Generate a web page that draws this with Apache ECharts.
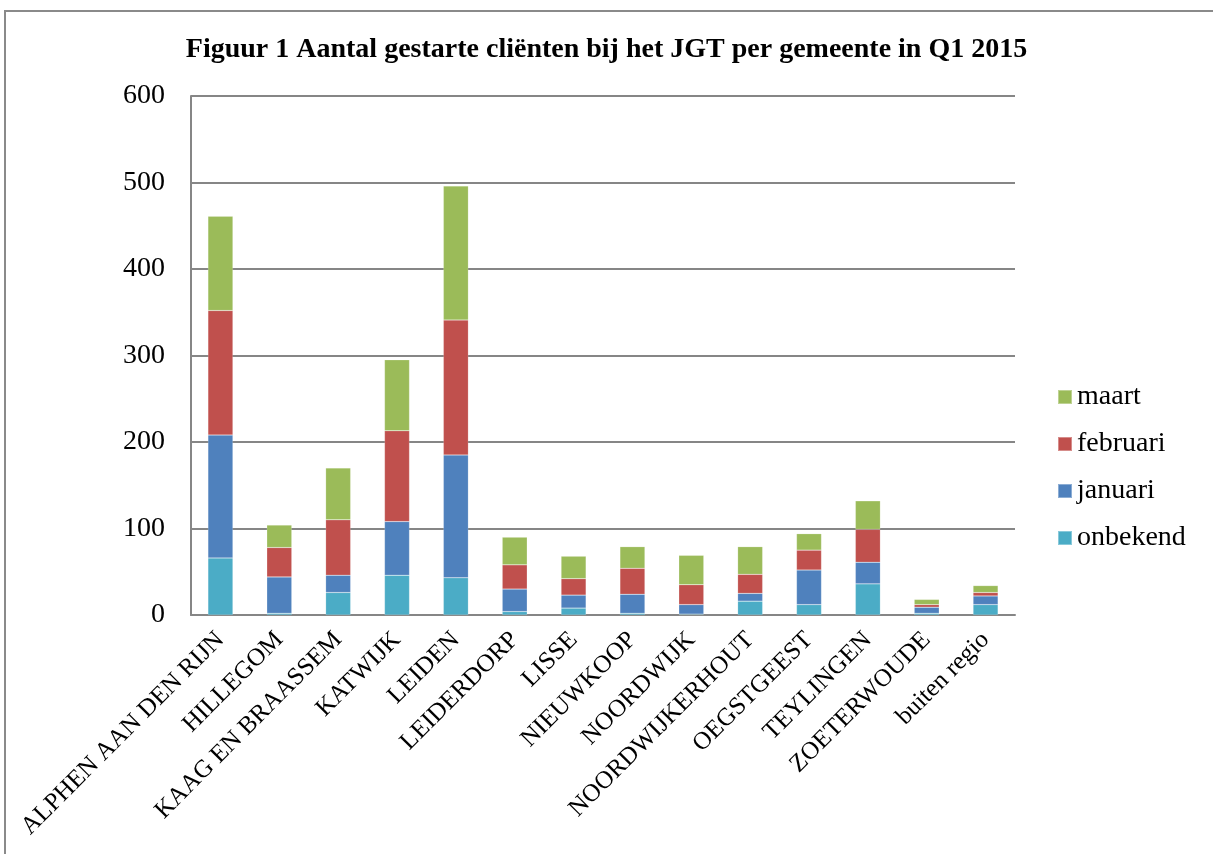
<!DOCTYPE html>
<html><head><meta charset="utf-8">
<script src="https://cdn.jsdelivr.net/npm/echarts@6/dist/echarts.min.js"></script>
<style>html,body{margin:0;padding:0;background:#fff}#c{width:1213px;height:854px}</style>
</head><body><div id="c"></div>
<script>
const categories = ['ALPHEN AAN DEN RIJN','HILLEGOM','KAAG EN BRAASSEM','KATWIJK','LEIDEN','LEIDERDORP','LISSE','NIEUWKOOP','NOORDWIJK','NOORDWIJKERHOUT','OEGSTGEEST','TEYLINGEN','ZOETERWOUDE','buiten regio'];
const onbekend = [66, 2, 26, 46, 43, 4, 8, 2, 1, 16, 12, 36, 2, 12];
const januari  = [142, 42, 20, 62, 142, 26, 15, 22, 11, 9, 40, 25, 7, 10];
const februari = [144, 34, 64, 105, 156, 28, 19, 30, 23, 22, 23, 38, 3, 4];
const maart    = [109, 26, 60, 82, 155, 32, 26, 25, 34, 32, 19, 33, 6, 8];
const yTicks = [0, 100, 200, 300, 400, 500, 600];
const titleText = 'Figuur 1 Aantal gestarte cliënten bij het JGT per gemeente in Q1 2015';

const serif = '"Liberation Serif", "DejaVu Serif", serif';
const chart = echarts.init(document.getElementById('c'));
const mk = (name, data, color) => ({
  name, type: 'bar', stack: 'total', data, barWidth: 25,
  itemStyle: { color, borderColor: 'rgba(255,255,255,0.35)', borderWidth: 0.5 }
});
chart.setOption({
  backgroundColor: '#fff',
  animation: false,
  graphic: [{
    type: 'rect', shape: { x: 5, y: 11, width: 1300, height: 1000 },
    style: { fill: 'none', stroke: '#8a8a8a', lineWidth: 2 }, z: -1
  }],
  title: {
    text: titleText, left: 'center', top: 31,
    textStyle: { fontFamily: serif, fontWeight: 'bold', fontSize: 28, color: '#000' }
  },
  legend: {
    orient: 'vertical', left: 1052, top: 378,
    data: ['maart', 'februari', 'januari', 'onbekend'],
    itemWidth: 14, itemHeight: 14, itemGap: 19,
    icon: 'rect',
    textStyle: { fontFamily: serif, fontSize: 28, color: '#000', lineHeight: 28 }
  },
  grid: { left: 191, right: 198, top: 96, bottom: 239, containLabel: false },
  xAxis: {
    type: 'category', data: categories,
    axisLine: { lineStyle: { color: '#868686', width: 2 } },
    axisTick: { show: false },
    axisLabel: { rotate: 45, interval: 0, margin: 21, fontFamily: serif, fontSize: 25, color: '#000' }
  },
  yAxis: {
    type: 'value', min: yTicks[0], max: yTicks[yTicks.length - 1], interval: 100,
    axisLine: { show: true, lineStyle: { color: '#868686', width: 2 } },
    axisTick: { show: false },
    splitLine: { lineStyle: { color: '#868686', width: 2 } },
    axisLabel: { margin: 26, fontFamily: serif, fontSize: 28, color: '#000' }
  },
  series: [
    mk('onbekend', onbekend, '#4BACC6'),
    mk('januari', januari, '#4F81BD'),
    mk('februari', februari, '#C0504D'),
    mk('maart', maart, '#9BBB59')
  ]
});
</script></body></html>
